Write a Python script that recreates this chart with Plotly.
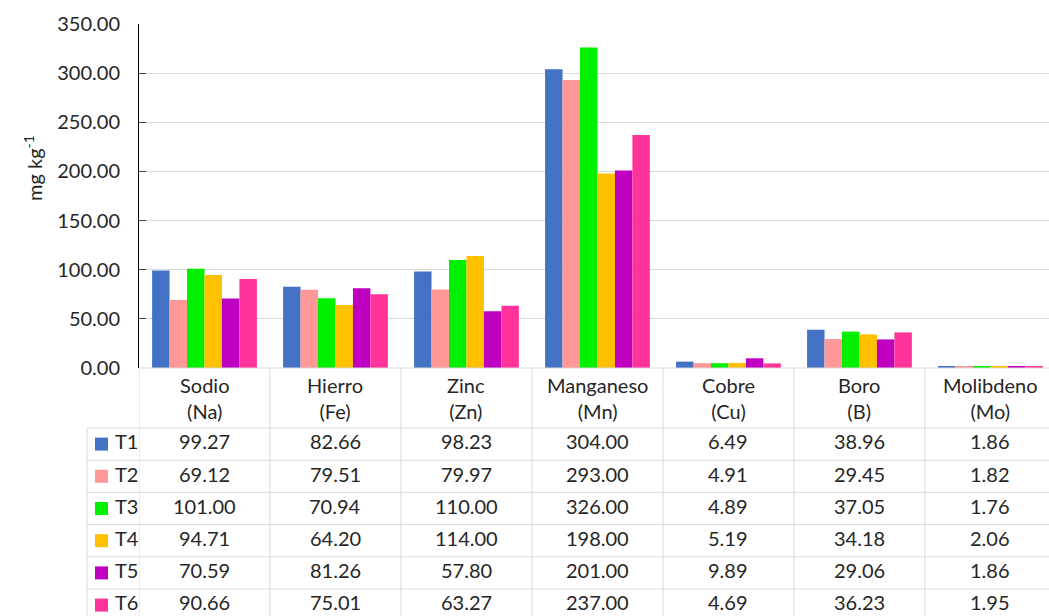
import plotly.graph_objects as go

categories = ["Sodio<br>(Na)", "Hierro<br>(Fe)", "Zinc<br>(Zn)", "Manganeso<br>(Mn)",
              "Cobre<br>(Cu)", "Boro<br>(B)", "Molibdeno<br>(Mo)"]
series_names = ["T1", "T2", "T3", "T4", "T5", "T6"]
T1 = [99.27, 82.66, 98.23, 304.00, 6.49, 38.96, 1.86]
T2 = [69.12, 79.51, 79.97, 293.00, 4.91, 29.45, 1.82]
T3 = [101.00, 70.94, 110.00, 326.00, 4.89, 37.05, 1.76]
T4 = [94.71, 64.20, 114.00, 198.00, 5.19, 34.18, 2.06]
T5 = [70.59, 81.26, 57.80, 201.00, 9.89, 29.06, 1.86]
T6 = [90.66, 75.01, 63.27, 237.00, 4.69, 36.23, 1.95]
series_values = [T1, T2, T3, T4, T5, T6]
colors = ["#4472C4", "#FF9896", "#00F000", "#FFC000", "#C000C0", "#FF3399"]
y_ticks = [0, 50, 100, 150, 200, 250, 300, 350]

W, H = 1049, 616
FONT = "Lato"
TXT = "#262626"
GRID = "#D9D9D9"
FS = 20

def py(p):
    return 1 - p / H

def px(p):
    return p / W

fig = go.Figure()
xs = list(range(len(categories)))
for name, vals, col in zip(series_names, series_values, colors):
    fig.add_trace(go.Bar(x=xs, y=vals, name=name, marker=dict(color=col, line=dict(width=0))))

plot_left, plot_top, plot_bottom = 139, 24, 368
header_bottom = 428
row_h = 32.2
legend_left = 87
text_shift = -2.8

shapes = []
annotations = []
n = len(categories)
for k in range(n + 1):
    shapes.append(dict(type="line", xref="x", yref="paper", x0=k - 0.5, x1=k - 0.5,
                       y0=py(plot_bottom), y1=0, line=dict(color=GRID, width=1)))
shapes.append(dict(type="line", xref="paper", yref="paper", x0=px(plot_left), x1=1,
                   y0=py(plot_bottom), y1=py(plot_bottom), line=dict(color=GRID, width=1)))
for r in range(len(series_names)):
    yy = header_bottom + r * row_h
    shapes.append(dict(type="line", xref="paper", yref="paper", x0=px(legend_left), x1=1,
                       y0=py(yy), y1=py(yy), line=dict(color=GRID, width=1)))
shapes.append(dict(type="line", xref="paper", yref="paper", x0=px(legend_left), x1=px(legend_left),
                   y0=py(header_bottom), y1=0, line=dict(color=GRID, width=1)))

for k, c in enumerate(categories):
    annotations.append(dict(x=k, y=py((plot_bottom + header_bottom) / 2), xref="x", yref="paper",
                            text=c, showarrow=False, xanchor="center", yanchor="middle",
                            font=dict(family=FONT, size=FS, color=TXT)))
for r, (name, vals, col) in enumerate(zip(series_names, series_values, colors)):
    ym = header_bottom + r * row_h + row_h / 2
    yc = ym + text_shift
    for k, v in enumerate(vals):
        annotations.append(dict(x=k, y=py(yc), xref="x", yref="paper", text=f"{v:.2f}",
                                showarrow=False, xanchor="center", yanchor="middle",
                                font=dict(family=FONT, size=FS, color=TXT)))
    shapes.append(dict(type="rect", xref="paper", yref="paper", x0=px(95), x1=px(108),
                       y0=py(ym + 6.5), y1=py(ym - 6.5), fillcolor=col, line=dict(width=0)))
    annotations.append(dict(x=px(113), y=py(yc), xref="paper", yref="paper", text=name,
                            showarrow=False, xanchor="left", yanchor="middle",
                            font=dict(family=FONT, size=FS, color=TXT)))

annotations.append(dict(x=px(33), y=py(168), xref="paper", yref="paper",
                        text="mg kg<sup>-1</sup>", showarrow=False, textangle=-90,
                        xanchor="center", yanchor="middle",
                        font=dict(family=FONT, size=20, color=TXT)))

fig.update_layout(
    width=W, height=H,
    margin=dict(l=0, r=0, t=0, b=0, pad=0),
    paper_bgcolor="white", plot_bgcolor="white",
    barmode="group", bargap=0.2, bargroupgap=0,
    showlegend=False,
    font=dict(family=FONT, size=FS, color=TXT),
    xaxis=dict(domain=[px(plot_left), 1.0], range=[-0.5, 6.447], showticklabels=False,
               showgrid=False, zeroline=False, showline=False, ticks="", automargin=False),
    yaxis=dict(domain=[py(plot_bottom), py(plot_top)], range=[0, 350], tickvals=y_ticks,
               tickformat=".2f", showgrid=True, gridcolor=GRID, gridwidth=1,
               zeroline=False, showline=True, linecolor="black", linewidth=1,
               ticks="inside", ticklen=7, tickcolor="#404040", automargin=False,
               tickfont=dict(family=FONT, size=FS, color=TXT), ticklabelstandoff=14),
    shapes=shapes, annotations=annotations,
)

fig.write_html("out.html")
